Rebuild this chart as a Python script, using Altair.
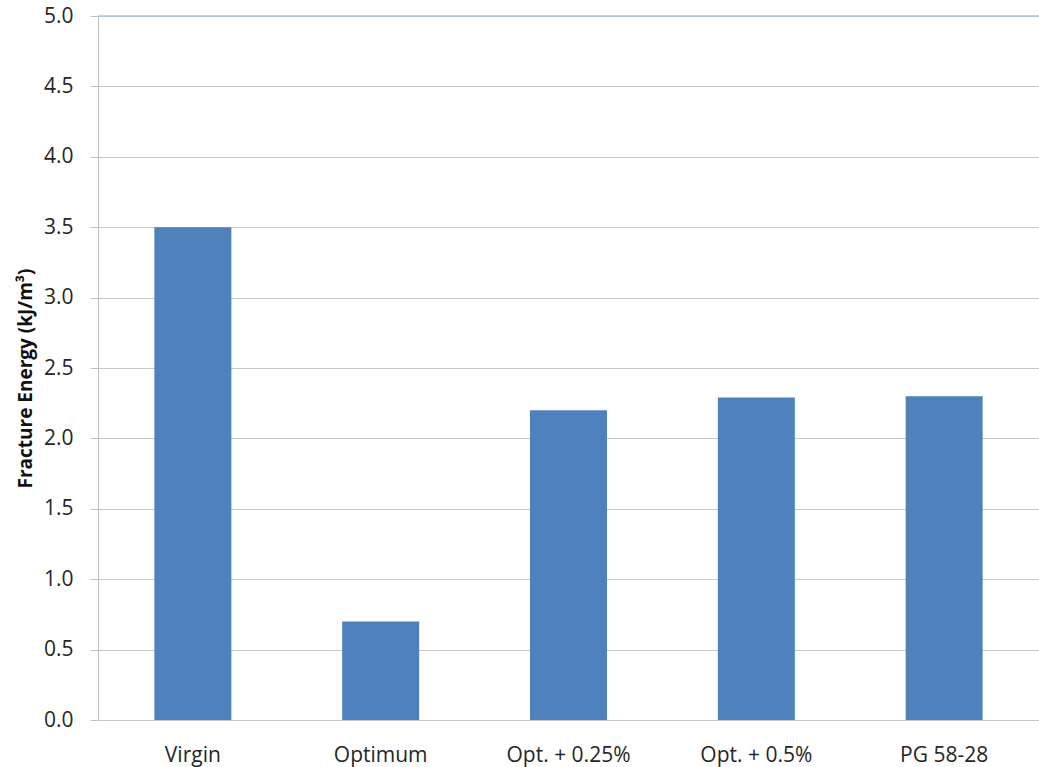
import altair as alt
import pandas as pd

# Fracture energy per mix
mixes = ["Virgin", "Optimum", "Opt. + 0.25%", "Opt. + 0.5%", "PG 58-28"]
energy = [3.5, 0.7, 2.2, 2.29, 2.3]
y_ticks = [0.0, 0.5, 1.0, 1.5, 2.0, 2.5, 3.0, 3.5, 4.0, 4.5, 5.0]

df = pd.DataFrame({"mix": mixes, "energy": energy})

FONT = "Open Sans"

x_enc = alt.X(
    "mix:N",
    sort=mixes,
    scale=alt.Scale(paddingInner=0.59, paddingOuter=0.3),
    axis=alt.Axis(
        title=None,
        labelAngle=0,
        labelFontSize=21,
        labelFont=FONT,
        labelColor="#262626",
        labelPadding=24,
        ticks=False,
        domain=False,
    ),
)

y_enc = alt.Y(
    "energy:Q",
    scale=alt.Scale(domain=[0, 5], nice=False),
    axis=alt.Axis(
        title="Fracture Energy (kJ/m³)",
        titleFont=FONT,
        titleFontSize=19,
        titleFontWeight="bold",
        titleColor="#111111",
        titleAngle=270,
        titleX=-67,
        titleY=362,
        titleAlign="center",
        titleBaseline="alphabetic",
        values=y_ticks,
        format=".1f",
        labelFont=FONT,
        labelFontSize=21,
        labelColor="#262626",
        labelPadding=17,
        tickSize=8,
        tickColor="#c0c0c0",
        grid=True,
        gridColor="#c8c8c8",
        gridWidth=1,
        domainColor="#c0c0c0",
    ),
)

bars = alt.Chart(df).mark_bar(color="#4f81bd").encode(x=x_enc, y=y_enc)

# Light blue frame line at the top of the value axis
top = alt.Chart(pd.DataFrame({"v": [5.0]})).mark_rule(
    color="#a9c4e6", strokeWidth=1.5
).encode(y=alt.Y("v:Q", scale=alt.Scale(domain=[0, 5], nice=False)))

chart = (
    alt.layer(bars, top)
    .properties(
        width=941,
        height=704,
        padding={"left": 98, "top": 16, "right": 0, "bottom": 47},
        autosize=alt.AutoSizeParams(type="none"),
        background="white",
    )
    .configure_view(stroke=None)
)

chart.save("out.html", embed_options={"renderer": "svg", "actions": False})
